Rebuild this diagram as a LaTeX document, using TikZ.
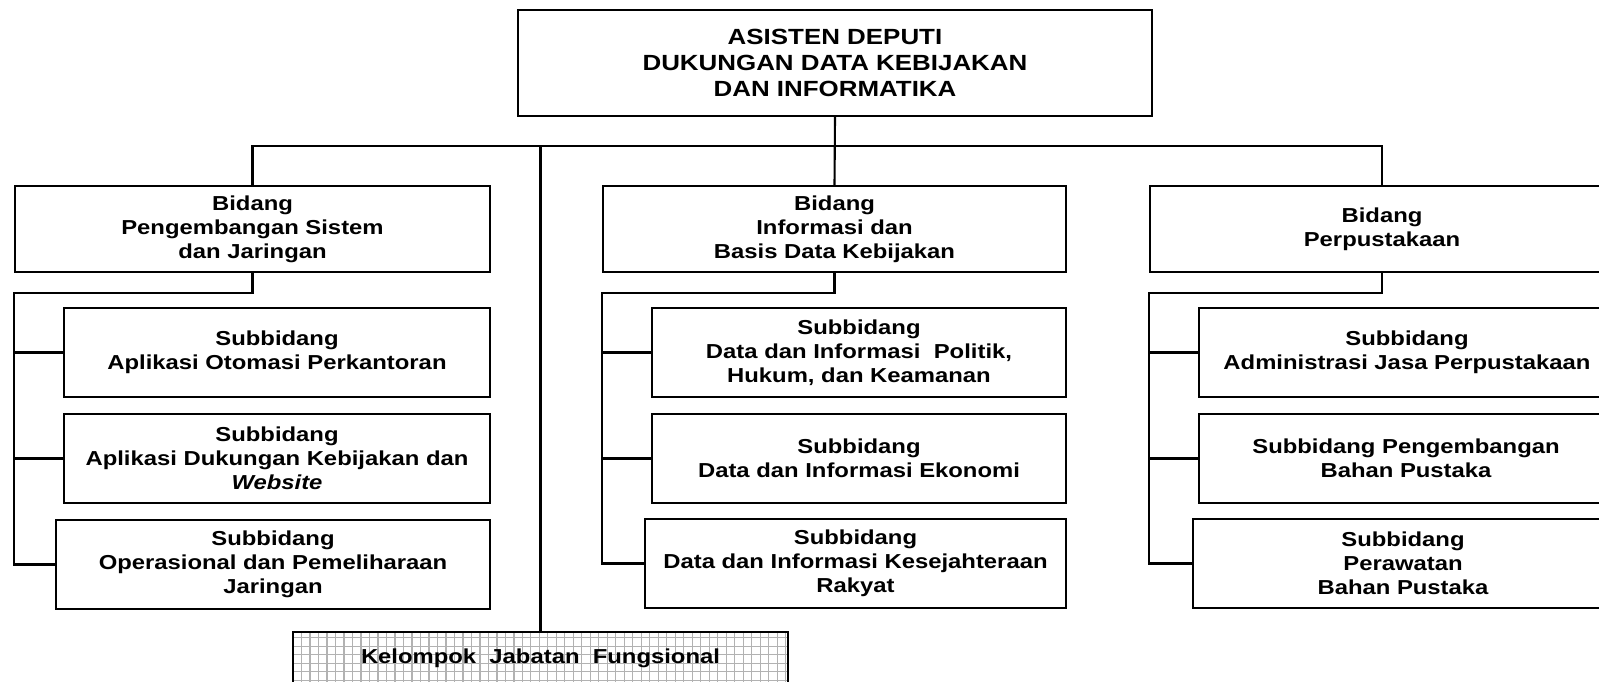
\documentclass[tikz,border=0pt]{standalone}
\usepackage{fontspec}
\setmainfont{Liberation Sans}[FakeStretch=1.18]

\tikzset{
  kotak/.style={draw, rectangle, align=center, inner sep=0pt,
    font=\fontsize{11.5}{13.6}\selectfont\bfseries},
  sub/.style={kotak, minimum height=1.78cm},
  bidang/.style={kotak, minimum height=1.72cm},
  kisi/.style={path picture={
    \draw[gray!60, line width=0.6pt, step=0.17cm]
      (path picture bounding box.south west) grid (path picture bounding box.north east);}},
}

\begin{document}
\begin{tikzpicture}[x=0.02cm, y=-0.02cm, line width=1.2pt]
    \useasboundingbox (0,0) rectangle (1599,681);

    % pimpinan
    \node[kotak, minimum width=12.68cm, minimum height=2.12cm,
          font=\fontsize{12.5}{14.6}\selectfont\bfseries] (asdep) at (835,63)
        {ASISTEN DEPUTI\\DUKUNGAN DATA KEBIJAKAN\\DAN INFORMATIKA};

    % tiga bidang
    \node[bidang, minimum width=9.5cm] (b1) at (252.5,229)
        {Bidang\\Pengembangan Sistem\\dan Jaringan};
    \node[bidang, minimum width=9.26cm] (b2) at (834.5,229)
        {Bidang\\Informasi dan\\Basis Data Kebijakan};
    \node[bidang, minimum width=9.28cm] (b3) at (1382,229)
        {Bidang\\Perpustakaan};

    % subbidang kolom kiri
    \node[sub, minimum width=8.52cm] (s1a) at (277,352.5)
        {Subbidang\\Aplikasi Otomasi Perkantoran};
    \node[sub, minimum width=8.52cm] (s1b) at (277,458.5)
        {Subbidang\\Aplikasi Dukungan Kebijakan dan\\\textit{Website}};
    \node[sub, minimum width=8.68cm] (s1c) at (273,564.5)
        {Subbidang\\Operasional dan Pemeliharaan\\Jaringan};

    % subbidang kolom tengah
    \node[sub, minimum width=8.28cm] (s2a) at (859,352.5)
        {Subbidang\\Data dan Informasi\ \ Politik,\\Hukum, dan Keamanan};
    \node[sub, minimum width=8.28cm] (s2b) at (859,458.5)
        {Subbidang\\Data dan Informasi Ekonomi};
    \node[sub, minimum width=8.42cm] (s2c) at (855.5,563.5)
        {Subbidang\\Data dan Informasi Kesejahteraan\\Rakyat};

    % subbidang kolom kanan
    \node[sub, minimum width=8.32cm] (s3a) at (1407,352.5)
        {Subbidang\\Administrasi Jasa Perpustakaan};
    \node[sub, minimum width=8.28cm] (s3b) at (1406,458.5)
        {Subbidang Pengembangan\\Bahan Pustaka};
    \node[sub, minimum width=8.4cm] (s3c) at (1403,563.5)
        {Subbidang\\Perawatan\\Bahan Pustaka};

    % jabatan fungsional
    \node[kotak, kisi, minimum width=9.9cm, minimum height=1.04cm] (kjf) at (540.5,658)
        {Kelompok\ \ Jabatan\ \ Fungsional};

    % garis komando
    \coordinate (bus) at (835,146);
    \draw (b1.north) |- (bus) -| (b3.north);
    \draw (asdep.south) -- (b2.north);
    \draw (kjf.north) -- (kjf.north |- bus);

    \draw (b1.south) -- ++(0,20) -| (s1c.west -| b1.west) -- (s1c.west);
    \draw (b2.south) -- ++(0,20) -| (s2c.west -| b2.west) -- (s2c.west);
    \draw (b3.south) -- ++(0,20) -| (s3c.west -| b3.west) -- (s3c.west);
    \foreach \s/\b in {s1a/b1, s1b/b1, s2a/b2, s2b/b2, s3a/b3, s3b/b3}
        \draw (\s.west) -- (\s.west -| \b.west);
\end{tikzpicture}
\end{document}
